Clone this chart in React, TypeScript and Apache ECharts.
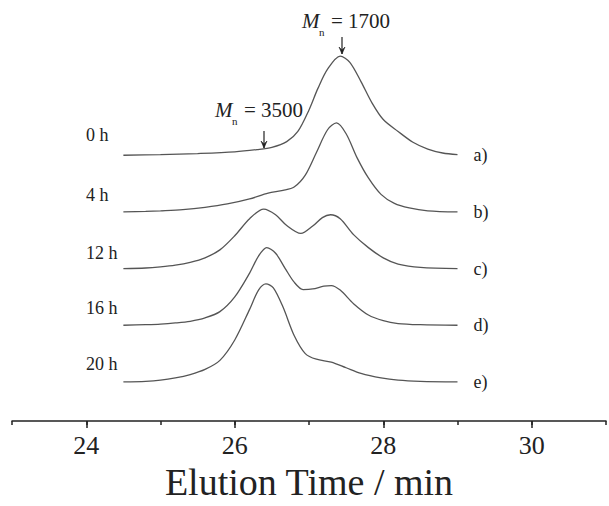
import React, { useEffect, useRef } from "react";
import * as echarts from "echarts";

// Elution time (min) and relative detector response (height above each trace's baseline)
const aX = [24.5, 25.0, 25.5, 26.0, 26.3, 26.5, 26.7, 26.85, 27.0, 27.12, 27.25, 27.42, 27.55, 27.7, 27.85, 28.0, 28.2, 28.4, 28.6, 28.8, 29.0];
const aH = [0, 0.01, 0.03, 0.06, 0.1, 0.14, 0.24, 0.42, 0.8, 1.18, 1.52, 1.75, 1.64, 1.3, 0.92, 0.63, 0.42, 0.23, 0.11, 0.04, 0.01];

const bX = [24.5, 24.8, 25.0, 25.3, 25.6, 25.9, 26.2, 26.45, 26.65, 26.8, 26.95, 27.1, 27.25, 27.37, 27.5, 27.65, 27.8, 27.97, 28.15, 28.35, 28.6, 29.0];
const bH = [0, 0.01, 0.02, 0.04, 0.08, 0.14, 0.23, 0.33, 0.38, 0.44, 0.65, 1.05, 1.45, 1.57, 1.38, 0.95, 0.6, 0.31, 0.15, 0.07, 0.02, 0];

const cX = [24.5, 24.8, 25.0, 25.2, 25.4, 25.6, 25.8, 26.0, 26.2, 26.39, 26.55, 26.7, 26.89, 27.05, 27.18, 27.29, 27.42, 27.6, 27.8, 28.0, 28.2, 28.5, 29.0];
const cH = [0, 0.01, 0.03, 0.06, 0.11, 0.19, 0.33, 0.58, 0.88, 1.05, 0.95, 0.76, 0.62, 0.75, 0.9, 0.95, 0.88, 0.6, 0.37, 0.19, 0.08, 0.02, 0];

const dX = [24.5, 24.8, 25.0, 25.2, 25.4, 25.6, 25.8, 26.0, 26.2, 26.32, 26.43, 26.55, 26.68, 26.8, 26.92, 27.05, 27.2, 27.3, 27.42, 27.6, 27.8, 28.0, 28.2, 28.5, 29.0];
const dH = [0, 0.01, 0.02, 0.04, 0.07, 0.13, 0.24, 0.5, 0.92, 1.22, 1.37, 1.27, 1.0, 0.76, 0.63, 0.64, 0.69, 0.7, 0.62, 0.38, 0.18, 0.08, 0.03, 0.01, 0];

const eX = [24.5, 24.8, 25.0, 25.2, 25.4, 25.6, 25.8, 26.0, 26.2, 26.32, 26.42, 26.52, 26.65, 26.8, 26.95, 27.1, 27.3, 27.5, 27.7, 27.97, 28.2, 28.5, 29.0];
const eH = [0, 0.01, 0.03, 0.07, 0.13, 0.22, 0.38, 0.74, 1.28, 1.62, 1.73, 1.66, 1.32, 0.82, 0.5, 0.4, 0.35, 0.25, 0.15, 0.07, 0.03, 0.01, 0];

const traceNames = ["a)", "b)", "c)", "d)", "e)"];
const traceTimes = ["0 h", "4 h", "12 h", "16 h", "20 h"];
const traceOffsets = [4, 3, 2, 1, 0];
const traceX = [aX, bX, cX, dX, eX];
const traceH = [aH, bH, cH, dH, eH];

const tickLabels = [24, 26, 28, 30];
const axisName = "Elution Time / min";
const mnLabels = ["1700", "3500"];

const FONT = "Liberation Serif, Times New Roman, serif";

export default function App() {
  const ref = useRef<HTMLDivElement>(null);

  useEffect(() => {
    if (!ref.current) return;
    const chart = echarts.init(ref.current, null, { renderer: "svg" });

    const series = traceNames.map((name, k) => ({
      type: "line",
      name,
      xAxisIndex: 0,
      yAxisIndex: 0,
      data: traceX[k].map((x, i) => [x, traceOffsets[k] + traceH[k][i]]),
      smooth: 0.3,
      showSymbol: false,
      symbol: "none",
      lineStyle: { color: "#555", width: 1.3 },
      endLabel: {
        show: true,
        formatter: () => name,
        distance: 16,
        fontFamily: FONT,
        fontSize: 18,
        color: "#222",
      },
      silent: true,
    }));

    const leftY = [135, 195, 253, 308, 364];

    const graphic: any[] = [];
    traceTimes.forEach((t, i) => {
      graphic.push({
        type: "text",
        x: 86,
        y: leftY[i],
        style: {
          text: t,
          fontFamily: FONT,
          fontSize: 18,
          fill: "#222",
          verticalAlign: "middle",
          align: "left",
        },
      });
    });

    const mnPos = [
      { x: 302, y: 21, ax: 342, a0: 37, a1: 54 },
      { x: 215, y: 110, ax: 264, a0: 131, a1: 148 },
    ];
    mnPos.forEach((p, i) => {
      graphic.push(
        {
          type: "text",
          x: p.x,
          y: p.y,
          style: { text: "M", fontFamily: FONT, fontStyle: "italic", fontSize: 21, fill: "#222", verticalAlign: "middle" },
        },
        {
          type: "text",
          x: p.x + 17,
          y: p.y + 11,
          style: { text: "n", fontFamily: FONT, fontSize: 11, fill: "#222", verticalAlign: "middle" },
        },
        {
          type: "text",
          x: p.x + 29,
          y: p.y,
          style: { text: "= " + mnLabels[i], fontFamily: FONT, fontSize: 21, fill: "#222", verticalAlign: "middle" },
        },
        {
          type: "line",
          shape: { x1: p.ax, y1: p.a0, x2: p.ax, y2: p.a1 },
          style: { stroke: "#222", lineWidth: 1.2 },
        },
        {
          type: "polygon",
          shape: { points: [[p.ax - 3, p.a1 - 7], [p.ax, p.a1], [p.ax + 3, p.a1 - 7], [p.ax, p.a1 - 4]] },
          style: { fill: "#222", stroke: "#222", lineWidth: 0.6 },
        }
      );
    });

    chart.setOption({
      animation: false,
      backgroundColor: "#fff",
      grid: { left: 12, right: 1, top: 0, bottom: 79, containLabel: false },
      xAxis: [
        {
          type: "value",
          min: 23,
          max: 31,
          interval: 1,
          position: "bottom",
          axisLine: { show: true, onZero: false, lineStyle: { color: "#222", width: 1.5 } },
          axisTick: { show: true, inside: false, length: 4, lineStyle: { color: "#222", width: 1.5 } },
          axisLabel: {
            show: true,
            margin: 11,
            fontFamily: FONT,
            fontSize: 26,
            color: "#222",
            formatter: (v: number) => (tickLabels.indexOf(v) >= 0 ? String(v) : ""),
          },
          splitLine: { show: false },
          name: axisName,
          nameLocation: "middle",
          nameGap: 42,
          nameTextStyle: { fontFamily: FONT, fontSize: 38, color: "#222" },
        },
        {
          type: "value",
          min: 23,
          max: 31,
          interval: 1,
          position: "bottom",
          offset: 0,
          axisLine: { show: false, onZero: false },
          axisTick: {
            show: true,
            inside: false,
            length: 7,
            customValues: tickLabels,
            lineStyle: { color: "#222", width: 1.5 },
          },
          axisLabel: { show: false },
          splitLine: { show: false },
        },
      ],
      yAxis: {
        type: "value",
        min: -0.69,
        max: 6.74,
        show: false,
        splitLine: { show: false },
      },
      series,
      graphic,
    });

    return () => chart.dispose();
  }, []);

  return (
    <div
      ref={ref}
      style={{ position: "fixed", left: 0, top: 0, width: 609, height: 506, background: "#fff" }}
    />
  );
}
